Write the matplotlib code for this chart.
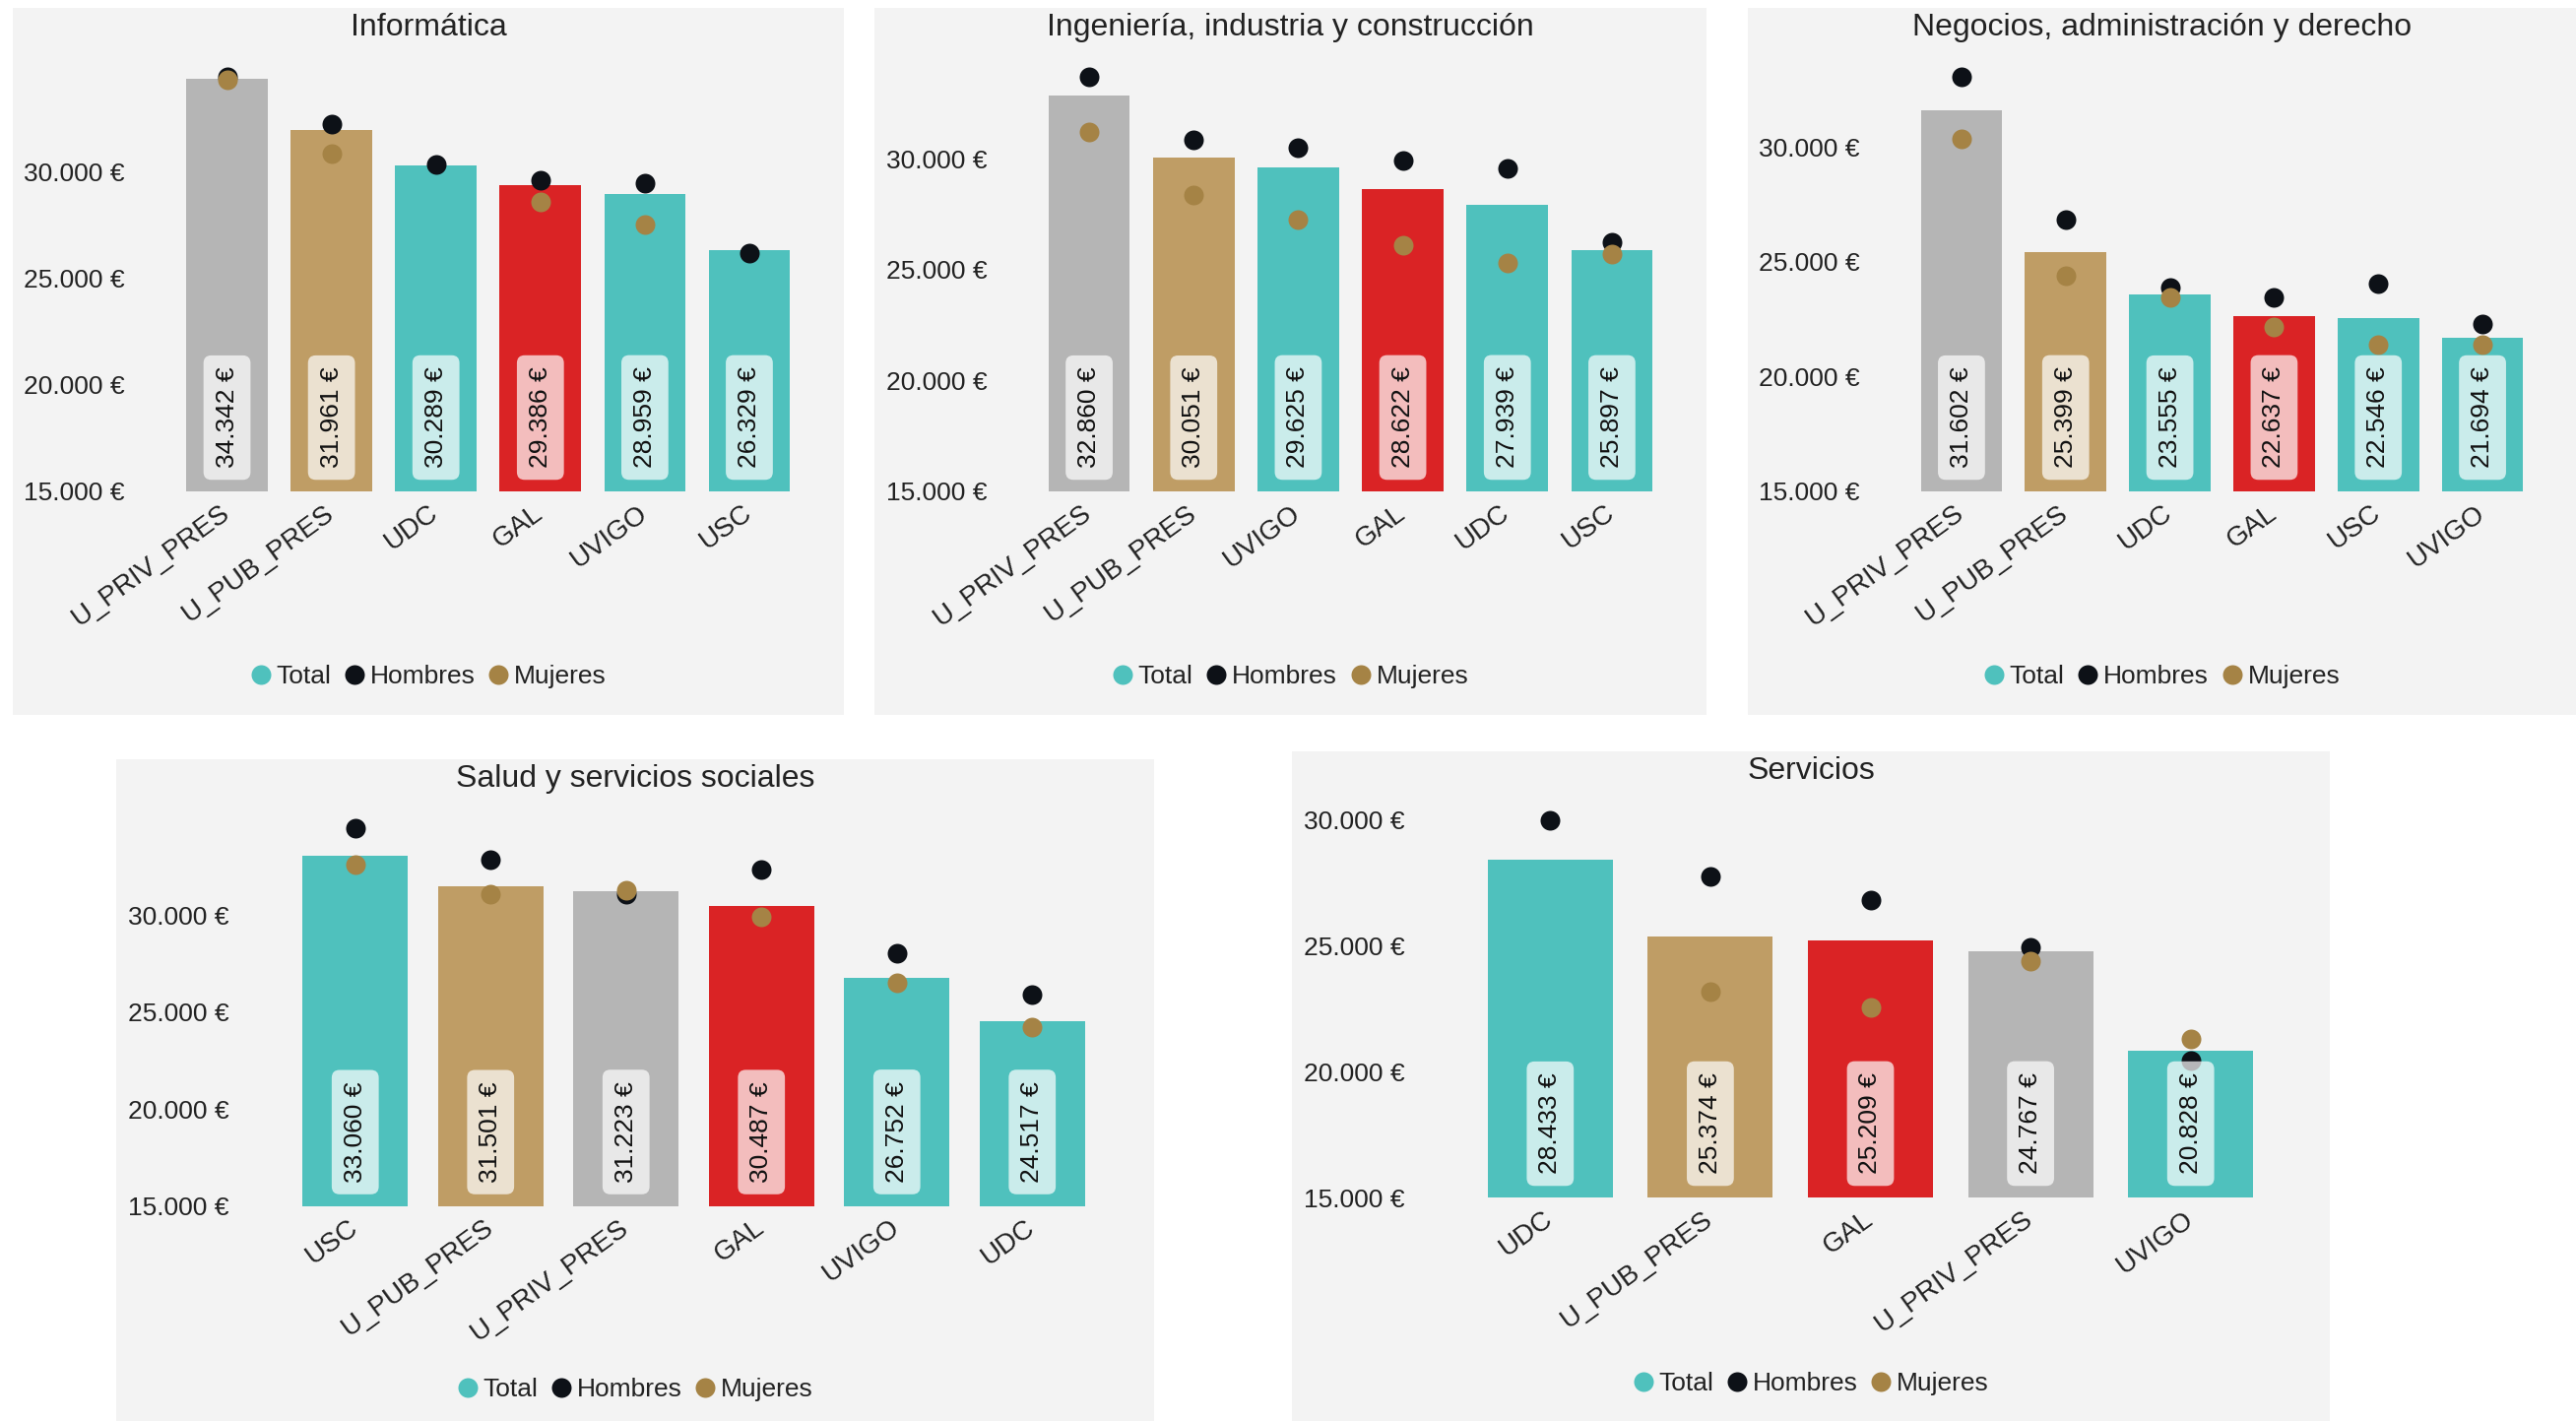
import numpy as np
import matplotlib.pyplot as plt
from matplotlib.lines import Line2D
from matplotlib.ticker import MultipleLocator, FuncFormatter
from matplotlib.transforms import ScaledTranslation

plt.rcParams['font.family'] = ['Liberation Sans', 'DejaVu Sans']

W, H = 2616, 1443
nan = np.nan

# ---- data, one block per field of study
inf_cats = ["U_PRIV_PRES", "U_PUB_PRES", "UDC", "GAL", "UVIGO", "USC"]
inf_total = [34342, 31961, 30289, 29386, 28959, 26329]
inf_hombres = [34450, 32220, 30320, 29590, 29470, 26175]
inf_mujeres = [34330, 30830, nan, 28590, 27520, nan]

ing_cats = ["U_PRIV_PRES", "U_PUB_PRES", "UVIGO", "GAL", "UDC", "USC"]
ing_total = [32860, 30051, 29625, 28622, 27939, 25897]
ing_hombres = [33690, 30845, 30515, 29895, 29545, 26245]
ing_mujeres = [31195, 28350, 27235, 26100, 25295, 25710]

neg_cats = ["U_PRIV_PRES", "U_PUB_PRES", "UDC", "GAL", "USC", "UVIGO"]
neg_total = [31602, 25399, 23555, 22637, 22546, 21694]
neg_hombres = [33050, 26835, 23865, 23425, 24065, 22270]
neg_mujeres = [30360, 24400, 23445, 22170, 21395, 21395]

sal_cats = ["USC", "U_PUB_PRES", "U_PRIV_PRES", "GAL", "UVIGO", "UDC"]
sal_total = [33060, 31501, 31223, 30487, 26752, 24517]
sal_hombres = [34480, 32845, 31100, 32360, 28040, 25875]
sal_mujeres = [32605, 31080, 31260, 29915, 26515, 24200]

ser_cats = ["UDC", "U_PUB_PRES", "GAL", "U_PRIV_PRES", "UVIGO"]
ser_total = [28433, 25374, 25209, 24767, 20828]
ser_hombres = [30010, 27775, 26830, 24950, 20430]
ser_mujeres = [nan, 23190, 22535, 24380, 21295]

titles = ["Informática", "Ingeniería, industria y construcción",
          "Negocios, administración y derecho", "Salud y servicios sociales", "Servicios"]
series = [
    (inf_cats, inf_total, inf_hombres, inf_mujeres),
    (ing_cats, ing_total, ing_hombres, ing_mujeres),
    (neg_cats, neg_total, neg_hombres, neg_mujeres),
    (sal_cats, sal_total, sal_hombres, sal_mujeres),
    (ser_cats, ser_total, ser_hombres, ser_mujeres),
]

# ---- layout in pixels: background box, axes box, y tick pad (pt)
layout = [
    dict(bg=(13, 8, 857, 726), ax=(177.5, 78, 814, 499), ypad=36.5, leg_y=687),
    dict(bg=(888, 8, 1733, 726), ax=(1053, 78, 1690, 499), ypad=36.5, leg_y=687),
    dict(bg=(1775, 8, 2616, 726), ax=(1939, 78, 2574, 499), ypad=36.5, leg_y=687),
    dict(bg=(118, 771, 1172, 1443), ax=(292, 841, 1117, 1224.5), ypad=42.5, leg_y=1411),
    dict(bg=(1312, 763, 2366, 1443), ax=(1493, 832.5, 2306, 1216), ypad=48, leg_y=1405),
]

BG = "#f3f3f3"
TEAL = "#4fc1bd"
GRAY = "#b5b5b5"
TAN = "#bf9d65"
RED = "#da2325"
C_H = "#0d1117"
C_M = "#a58345"
TXT = "#222222"
bar_colors = {"U_PRIV_PRES": GRAY, "U_PUB_PRES": TAN, "GAL": RED}


def euro(v, pos=None):
    return f"{v:,.0f} €".replace(",", ".")


def fx(px):
    return px / W


def fy(py):
    return 1 - py / H


fig = plt.figure(figsize=(W / 100, H / 100), dpi=100, facecolor="white")
shift = ScaledTranslation(-11 / 100, 0, fig.dpi_scale_trans)

for title, (cats, total, hom, muj), lay in zip(titles, series, layout):
    x0, y0, x1, y1 = lay["bg"]
    bg = fig.add_axes([fx(x0), fy(y1), fx(x1 - x0), (y1 - y0) / H], zorder=0)
    bg.set_facecolor(BG)
    bg.set_xticks([])
    bg.set_yticks([])
    for s in bg.spines.values():
        s.set_visible(False)
    fig.text(fx((x0 + x1) / 2), fy(y0 + 5), title, ha="center", va="top",
             fontsize=23, color=TXT, zorder=3)

    a0, b0, a1, b1 = lay["ax"]
    ax = fig.add_axes([fx(a0), fy(b1), fx(a1 - a0), (b1 - b0) / H], zorder=2)
    ax.set_facecolor("none")
    x = np.arange(len(cats))
    colors = [bar_colors.get(c, TEAL) for c in cats]
    ax.bar(x, total, width=0.78, color=colors, zorder=1)
    ax.plot(x, hom, "o", color=C_H, ms=14.4, mew=0, clip_on=False, zorder=3)
    ax.plot(x, muj, "o", color=C_M, ms=14.4, mew=0, clip_on=False, zorder=4)

    for xi, v in zip(x, total):
        ax.annotate(euro(v), xy=(xi, 15000), xytext=(0, 17), textcoords="offset points",
                    rotation=90, ha="center", va="bottom", fontsize=19, color="#111111",
                    zorder=5,
                    bbox=dict(boxstyle="round,pad=0.45,rounding_size=0.3", fc="white",
                              ec="none", alpha=0.7))

    allv = np.concatenate([total, hom, muj])
    ax.set_ylim(15000, np.nanmax(allv))
    ax.set_xlim(-0.5, len(cats) - 0.5)
    ax.yaxis.set_major_locator(MultipleLocator(5000))
    ax.yaxis.set_major_formatter(FuncFormatter(euro))
    ax.set_xticks(x)
    ax.set_xticklabels(cats, rotation=36, ha="right", va="center",
                       rotation_mode="anchor", fontsize=20, color=TXT)
    for lbl in ax.get_xticklabels():
        lbl.set_transform(lbl.get_transform() + shift)
    ax.tick_params(axis="x", length=0, pad=14)
    ax.tick_params(axis="y", length=0, pad=lay["ypad"], labelsize=19, labelcolor=TXT)
    for s in ax.spines.values():
        s.set_visible(False)

    handles = [Line2D([], [], marker="o", ls="none", color=c, ms=14.4, mew=0)
               for c in (TEAL, C_H, C_M)]
    leg = fig.legend(handles, ["Total", "Hombres", "Mujeres"], loc="center",
                     bbox_to_anchor=(fx((x0 + x1) / 2), fy(lay["leg_y"])), ncol=3,
                     frameon=False, fontsize=19, handlelength=0.8, handletextpad=0.2,
                     columnspacing=0.5, borderpad=0, labelcolor=TXT)
    leg.set_zorder(3)

fig.savefig("out.png", dpi=100, facecolor="white")
